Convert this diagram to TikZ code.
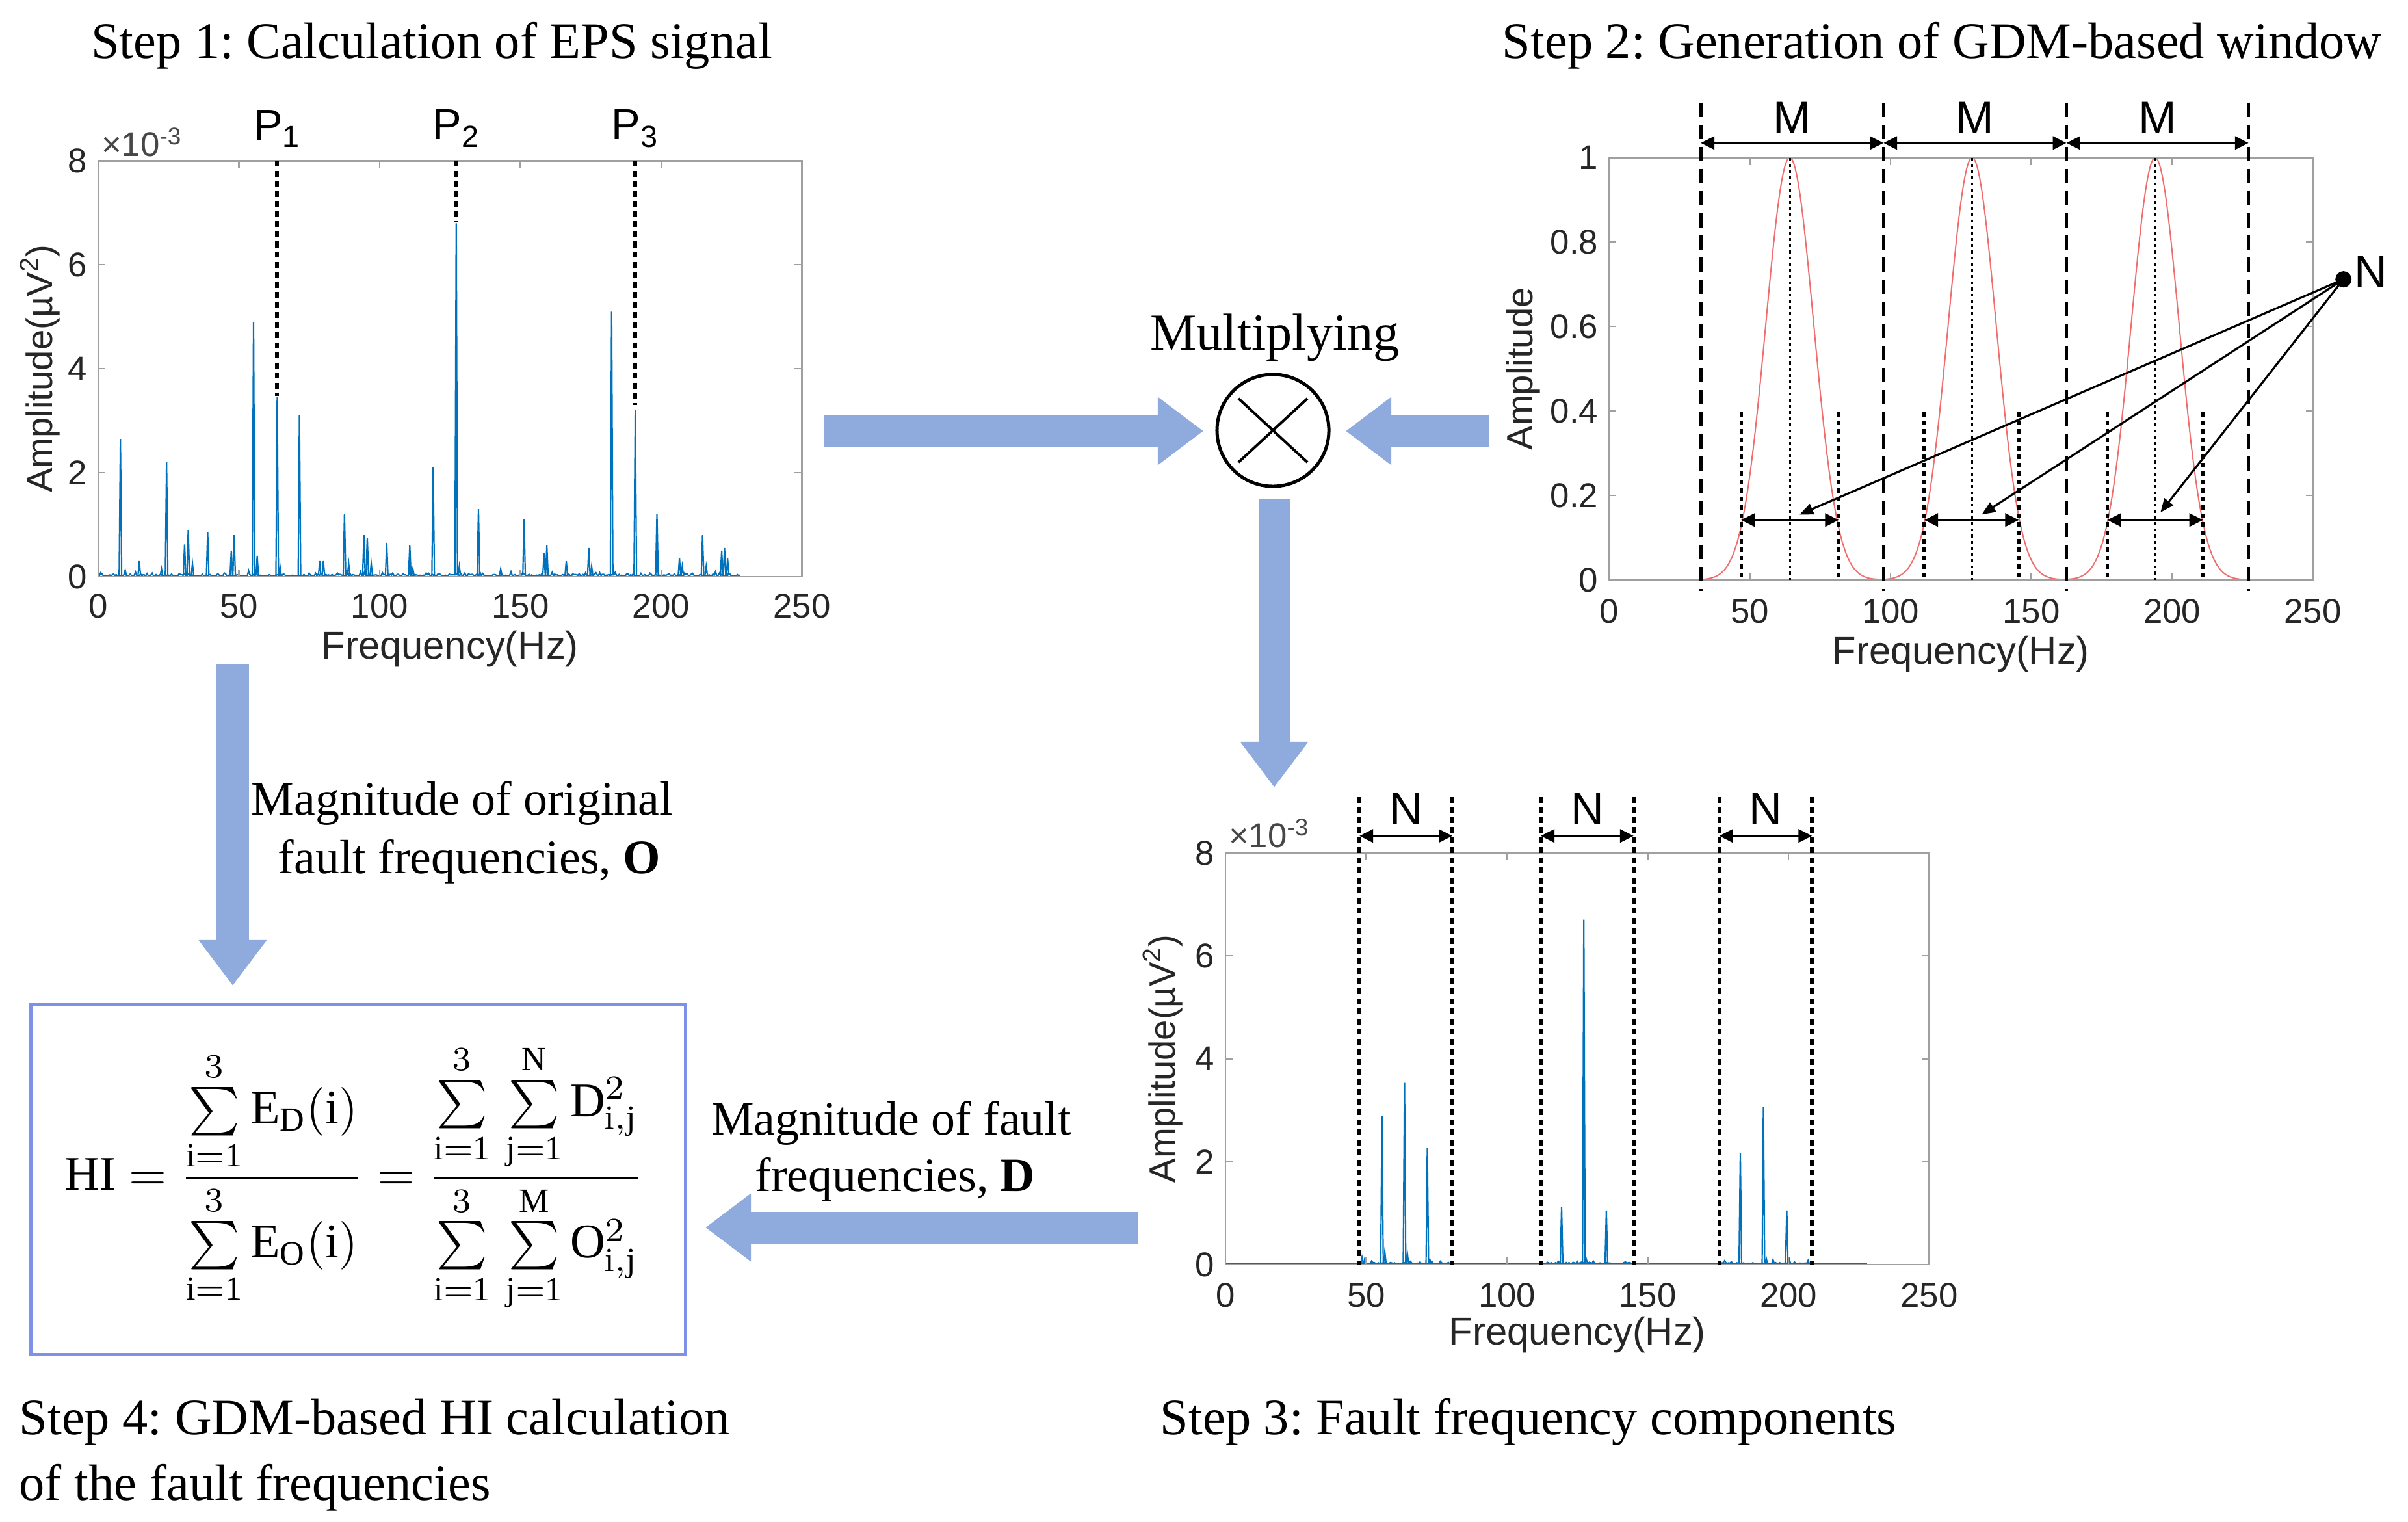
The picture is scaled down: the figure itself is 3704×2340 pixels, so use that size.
\documentclass[tikz,border=0pt]{standalone}
\usepackage{fontspec}
\setmainfont{Liberation Serif}
\newfontfamily\plotfont{Liberation Sans}
\usetikzlibrary{arrows.meta,calc}
\definecolor{arrowblue}{RGB}{143,170,220}
\definecolor{boxblue}{RGB}{125,145,230}
\definecolor{matblue}{RGB}{0,114,189}
\definecolor{axgray}{RGB}{160,160,160}
\definecolor{ticktext}{RGB}{38,38,38}
\definecolor{winred}{RGB}{240,110,110}
\frenchspacing
\begin{document}
\begin{tikzpicture}[x=0.01cm, y=-0.01cm,
  captxt/.style={font=\fontsize{22.3}{26}\selectfont, anchor=base, inner sep=0},
  multtxt/.style={font=\fontsize{22.8}{26}\selectfont, anchor=base, inner sep=0},
  labtxt/.style={font=\fontsize{21}{25}\selectfont, anchor=base, inner sep=0},
  ticklab/.style={font=\plotfont\fontsize{15}{17}\selectfont, text=ticktext, inner sep=0},
  axlab/.style={font=\plotfont\fontsize{16}{18}\selectfont, text=ticktext, inner sep=0},
  freqlab/.style={font=\plotfont\fontsize{17}{19}\selectfont, text=ticktext, inner sep=0},
  expo/.style={font=\plotfont\fontsize{15}{17}\selectfont, text=ticktext!85, inner sep=0},
  plab/.style={font=\plotfont\fontsize{19}{21}\selectfont, inner sep=0},
  mlab/.style={font=\plotfont\fontsize{20}{22}\selectfont, inner sep=0},
  bigarrow/.style={draw=arrowblue, line width=0.49cm, -{Triangle[length=0.7cm,width=1.0cm]}},
  specline/.style={draw=matblue, line width=0.022cm},
  axframe/.style={draw=axgray, line width=0.022cm},
  pdots/.style={black, line width=0.058cm, dash pattern=on 0.09cm off 0.065cm},
  sdots/.style={black, line width=0.05cm, dash pattern=on 0.07cm off 0.06cm},
  mdash/.style={black, line width=0.052cm, dash pattern=on 0.22cm off 0.12cm},
  cdots/.style={black, line width=0.03cm, dash pattern=on 0.045cm off 0.05cm},
  dimarrow/.style={black, line width=0.04cm, {Triangle[length=0.21cm,width=0.2cm]}-{Triangle[length=0.21cm,width=0.2cm]}},
  ptr/.style={black, line width=0.032cm, -{Triangle[length=0.21cm,width=0.17cm]}}
]
\useasboundingbox (0,0) rectangle (3704,2340);

% ---------- captions ----------
\node[captxt] (cap1) at (664,90) {Step 1: Calculation of EPS signal};
\node[captxt] (cap2) at (2987,90) {Step 2: Generation of GDM-based window};
\node[captxt] (cap3) at (2351,2206) {Step 3: Fault frequency components};
\node[captxt, anchor=base west] (cap4a) at (29,2206) {Step 4: GDM-based HI calculation};
\node[captxt, anchor=base west] (cap4b) at (29,2307) {of the fault frequencies};
\node[multtxt] (multlbl) at (1961,538) {Multiplying};
\node[labtxt] (lblO1) at (711,1253) {Magnitude of original};
\node[labtxt] (lblO2) at (722,1343) {fault frequencies, \textbf{O}};
\node[labtxt] (lblD1) at (1371,1745) {Magnitude of fault};
\node[labtxt] (lblD2) at (1377,1832) {frequencies, \textbf{D}};

% ---------- plot 1 ----------
\begin{scope}[shift={(151,887)}, x=0.04328cm, y=0.799cm]
  \pgfmathsetseed{11}
  \draw[specline] plot[domain=0:228, samples=500] (\x,{0.015+0.12*rnd*rnd*rnd});
  \foreach \f/\h in {7.9/2.65, 14.6/0.3, 24.3/2.2, 22.5/0.15, 30.7/0.62, 32.0/0.9, 33.5/0.25, 38.9/0.85, 47.3/0.5, 48.3/0.8, 55.2/4.9, 56.5/0.4, 63.6/3.45, 64.6/0.2, 71.5/3.1, 78.7/0.3, 80/0.3, 87.5/1.2, 89/0.25, 94.4/0.8, 95.6/0.75, 97/0.25, 102.5/0.65, 110.7/0.6, 111.8/0.15, 119.0/2.1, 127.2/6.8, 128.3/0.2, 135.1/1.3, 143/0.15, 151.3/1.1, 158.4/0.45, 159.4/0.6, 166.3/0.3, 174.3/0.55, 175.3/0.2, 182.4/5.1, 190.8/3.2, 198.5/1.2, 206.5/0.35, 207.5/0.2, 214.7/0.8, 216/0.2, 221.5/0.5, 222.5/0.55, 223.6/0.35}
    \draw[specline] (\f-0.45,0.02) -- (\f,\h) -- (\f+0.45,0.02);
  \draw[axframe] (0,0) rectangle (250,8);
  \foreach \f in {0,50,100,150,200,250} {
    \draw[axframe] (\f,0) -- ++(0,0.11cm);
    \draw[axframe] (\f,8) -- ++(0,-0.11cm);
    \node[ticklab, yshift=-0.45cm] (pa\f) at (\f,0) {\f};
  }
  \foreach \v in {0,2,4,6,8} {
    \draw[axframe] (0,\v) -- ++(0.11cm,0);
    \draw[axframe] (250,\v) -- ++(-0.11cm,0);
    \node[ticklab, anchor=east, xshift=-0.16cm] (pav\v) at (0,\v) {\v};
  }
  \node[freqlab, yshift=-1.11cm] (pafreq) at (125,0) {Frequency(Hz)};
  \node[axlab, rotate=90] (paamp) at (-20.6,4) {Amplitude(\textmu V\textsuperscript{2})};
  \node[expo, anchor=west] (paexp) at (1.0,8.36) {×10\textsuperscript{-3}};
  \draw[pdots] (63.6,8) -- (63.6,3.48);
  \draw[pdots] (127.2,8) -- (127.2,6.82);
  \draw[pdots] (190.8,8) -- (190.8,3.30);
  \node[plab] (p1) at (63.6,8.62) {P\textsubscript{1}};
  \node[plab] (p2) at (127.2,8.62) {P\textsubscript{2}};
  \node[plab] (p3) at (190.8,8.62) {P\textsubscript{3}};
\end{scope}

% ---------- plot 2 ----------
\begin{scope}[shift={(2475,892)}, x=0.04328cm, y=6.49cm]
  \draw[winred, line width=0.02cm] plot[domain=0:228, samples=500]
    (\x,{exp(max(-25,-((\x-64.2)/12.02)^2))+exp(max(-25,-((\x-129)/12.02)^2))+exp(max(-25,-((\x-194)/12.02)^2))});
  \draw[axframe] (0,0) rectangle (250,1);
  \foreach \f in {0,50,100,150,200,250} {
    \draw[axframe] (\f,0) -- ++(0,0.11cm);
    \draw[axframe] (\f,1) -- ++(0,-0.11cm);
    \node[ticklab, yshift=-0.48cm] (pb\f) at (\f,0) {\f};
  }
  \foreach \v/\l [count=\i] in {0/0,0.2/0.2,0.4/0.4,0.6/0.6,0.8/0.8,1/1} {
    \draw[axframe] (0,\v) -- ++(0.11cm,0);
    \draw[axframe] (250,\v) -- ++(-0.11cm,0);
    \node[ticklab, anchor=east, xshift=-0.16cm] (pbv\i) at (0,\v) {\l};
  }
  \node[freqlab, yshift=-1.14cm] (pbfreq) at (125,0) {Frequency(Hz)};
  \node[axlab, rotate=90] (pbamp) at (-30.5,0.5) {Amplitude};
  % M windows
  \foreach \f in {32.6,97.5,162.5,227.2}
    \draw[mdash] (\f,1.131) -- (\f,-0.026);
  \draw[dimarrow] (32.6,1.035) -- (97.5,1.035);
  \draw[dimarrow] (97.5,1.035) -- (162.5,1.035);
  \draw[dimarrow] (162.5,1.035) -- (227.2,1.035);
  \node[mlab] (m1) at (65,1.095) {M};
  \node[mlab] (m2) at (130,1.095) {M};
  \node[mlab] (m3) at (194.8,1.095) {M};
  % centres
  \foreach \f in {64.2,129,194}
    \draw[cdots] (\f,1) -- (\f,0);
  % N windows
  \foreach \f in {46.9,81.6,112,145.6,177,211}
    \draw[sdots] (\f,0.3975) -- (\f,0);
  \draw[dimarrow] (46.9,0.142) -- (81.6,0.142);
  \draw[dimarrow] (112,0.142) -- (145.6,0.142);
  \draw[dimarrow] (177,0.142) -- (211,0.142);
  \coordinate (nt1) at (67.7,0.155);
  \coordinate (nt2) at (132.4,0.155);
  \coordinate (nt3) at (195.9,0.160);
  \node[circle, fill=black, inner sep=0, minimum size=0.25cm] (ndot) at (260.9,0.712) {};
  \node[mlab, anchor=west] (nlab) at (264.5,0.73) {N};
  \draw[ptr] (ndot.center) -- (nt1);
  \draw[ptr] (ndot.center) -- (nt2);
  \draw[ptr] (ndot.center) -- (nt3);
\end{scope}

% ---------- plot 3 ----------
\begin{scope}[shift={(1885,1945)}, x=0.04328cm, y=0.791cm]
  \draw[specline] (0,0.02) -- (228,0.02);
  \pgfmathsetseed{5}
  \draw[specline] plot[domain=47.6:80.6, samples=70] (\x,{0.015+0.1*rnd*rnd*rnd});
  \draw[specline] plot[domain=112:145, samples=70] (\x,{0.015+0.1*rnd*rnd*rnd});
  \draw[specline] plot[domain=175.4:208.4, samples=70] (\x,{0.015+0.1*rnd*rnd*rnd});
  \foreach \f/\h in {48.5/0.14, 49.5/0.12, 55.6/2.88, 56.6/0.25, 63.6/3.53, 64.6/0.22, 71.7/2.27, 72.6/0.1, 119.4/1.12, 127.3/6.7, 128.2/0.1, 135.3/1.05, 182.9/2.17, 191.1/3.06, 192.1/0.12, 199.4/1.05, 200.3/0.1}
    \draw[specline] (\f-0.45,0.02) -- (\f,\h) -- (\f+0.45,0.02);
  \draw[axframe] (0,0) rectangle (250,8);
  \foreach \f in {0,50,100,150,200,250} {
    \draw[axframe] (\f,0) -- ++(0,0.11cm);
    \draw[axframe] (\f,8) -- ++(0,-0.11cm);
    \node[ticklab, yshift=-0.47cm] (pc\f) at (\f,0) {\f};
  }
  \foreach \v in {0,2,4,6,8} {
    \draw[axframe] (0,\v) -- ++(0.11cm,0);
    \draw[axframe] (250,\v) -- ++(-0.11cm,0);
    \node[ticklab, anchor=east, xshift=-0.16cm] (pcv\v) at (0,\v) {\v};
  }
  \node[freqlab, yshift=-1.08cm] (pcfreq) at (125,0) {Frequency(Hz)};
  \node[axlab, rotate=90] (pcamp) at (-22.2,4) {Amplitude(\textmu V\textsuperscript{2})};
  \node[expo, anchor=west] (pcexp) at (1.0,8.38) {×10\textsuperscript{-3}};
  \foreach \f in {47.6,80.6,112,145,175.4,208.4}
    \draw[pdots] (\f,9.09) -- (\f,0);
  \draw[dimarrow] (47.6,8.33) -- (80.6,8.33);
  \draw[dimarrow] (112,8.33) -- (145,8.33);
  \draw[dimarrow] (175.4,8.33) -- (208.4,8.33);
  \node[mlab] (n1) at (64.1,8.85) {N};
  \node[mlab] (n2) at (128.5,8.85) {N};
  \node[mlab] (n3) at (191.9,8.85) {N};
\end{scope}

% ---------- multiplier ----------
\node[circle, draw=black, line width=0.05cm, minimum size=1.72cm, inner sep=0] (mult) at (1958,662) {};
\draw[black, line width=0.04cm] ($(mult.center)+(-53,-49)$) -- ($(mult.center)+(53,49)$);
\draw[black, line width=0.04cm] ($(mult.center)+(-53,49)$) -- ($(mult.center)+(53,-49)$);

% ---------- HI box ----------
\node[draw=boxblue, line width=0.05cm, minimum width=10.06cm, minimum height=5.37cm, inner sep=0] (hibox) at (551,1814.5) {};
\node[inner sep=0] (hiform) at (545,1812) {\resizebox{8.9cm}{!}{$\displaystyle
  \mathrm{HI}=\frac{\sum\limits_{\mathrm{i{=}1}}^{3}\mathrm{E}_{\mathrm{D}}(\mathrm{i})}{\sum\limits_{\mathrm{i{=}1}}^{3}\mathrm{E}_{\mathrm{O}}(\mathrm{i})}
  =\frac{\sum\limits_{\mathrm{i{=}1}}^{3}\,\sum\limits_{\mathrm{j{=}1}}^{\mathrm{N}}\mathrm{D}_{\mathrm{i,j}}^{2}}{\sum\limits_{\mathrm{i{=}1}}^{3}\,\sum\limits_{\mathrm{j{=}1}}^{\mathrm{M}}\mathrm{O}_{\mathrm{i,j}}^{2}}$}};

% ---------- big arrows ----------
\coordinate (a1s) at (1268,663);
\coordinate (a1e) at (1851,663);
\coordinate (a2s) at (2290,663);
\coordinate (a2e) at (2070,663);
\coordinate (a3s) at (1960,767);
\coordinate (a3e) at (1960,1211);
\coordinate (a4s) at (1751,1888);
\coordinate (a4e) at (1085,1888);
\coordinate (a5s) at (358,1021);
\coordinate (a5e) at (358,1516);
\draw[bigarrow] (a1s) -- (a1e);
\draw[bigarrow] (a2s) -- (a2e);
\draw[bigarrow] (a3s) -- (a3e);
\draw[bigarrow] (a4s) -- (a4e);
\draw[bigarrow] (a5s) -- (a5e);
\end{tikzpicture}
\end{document}
